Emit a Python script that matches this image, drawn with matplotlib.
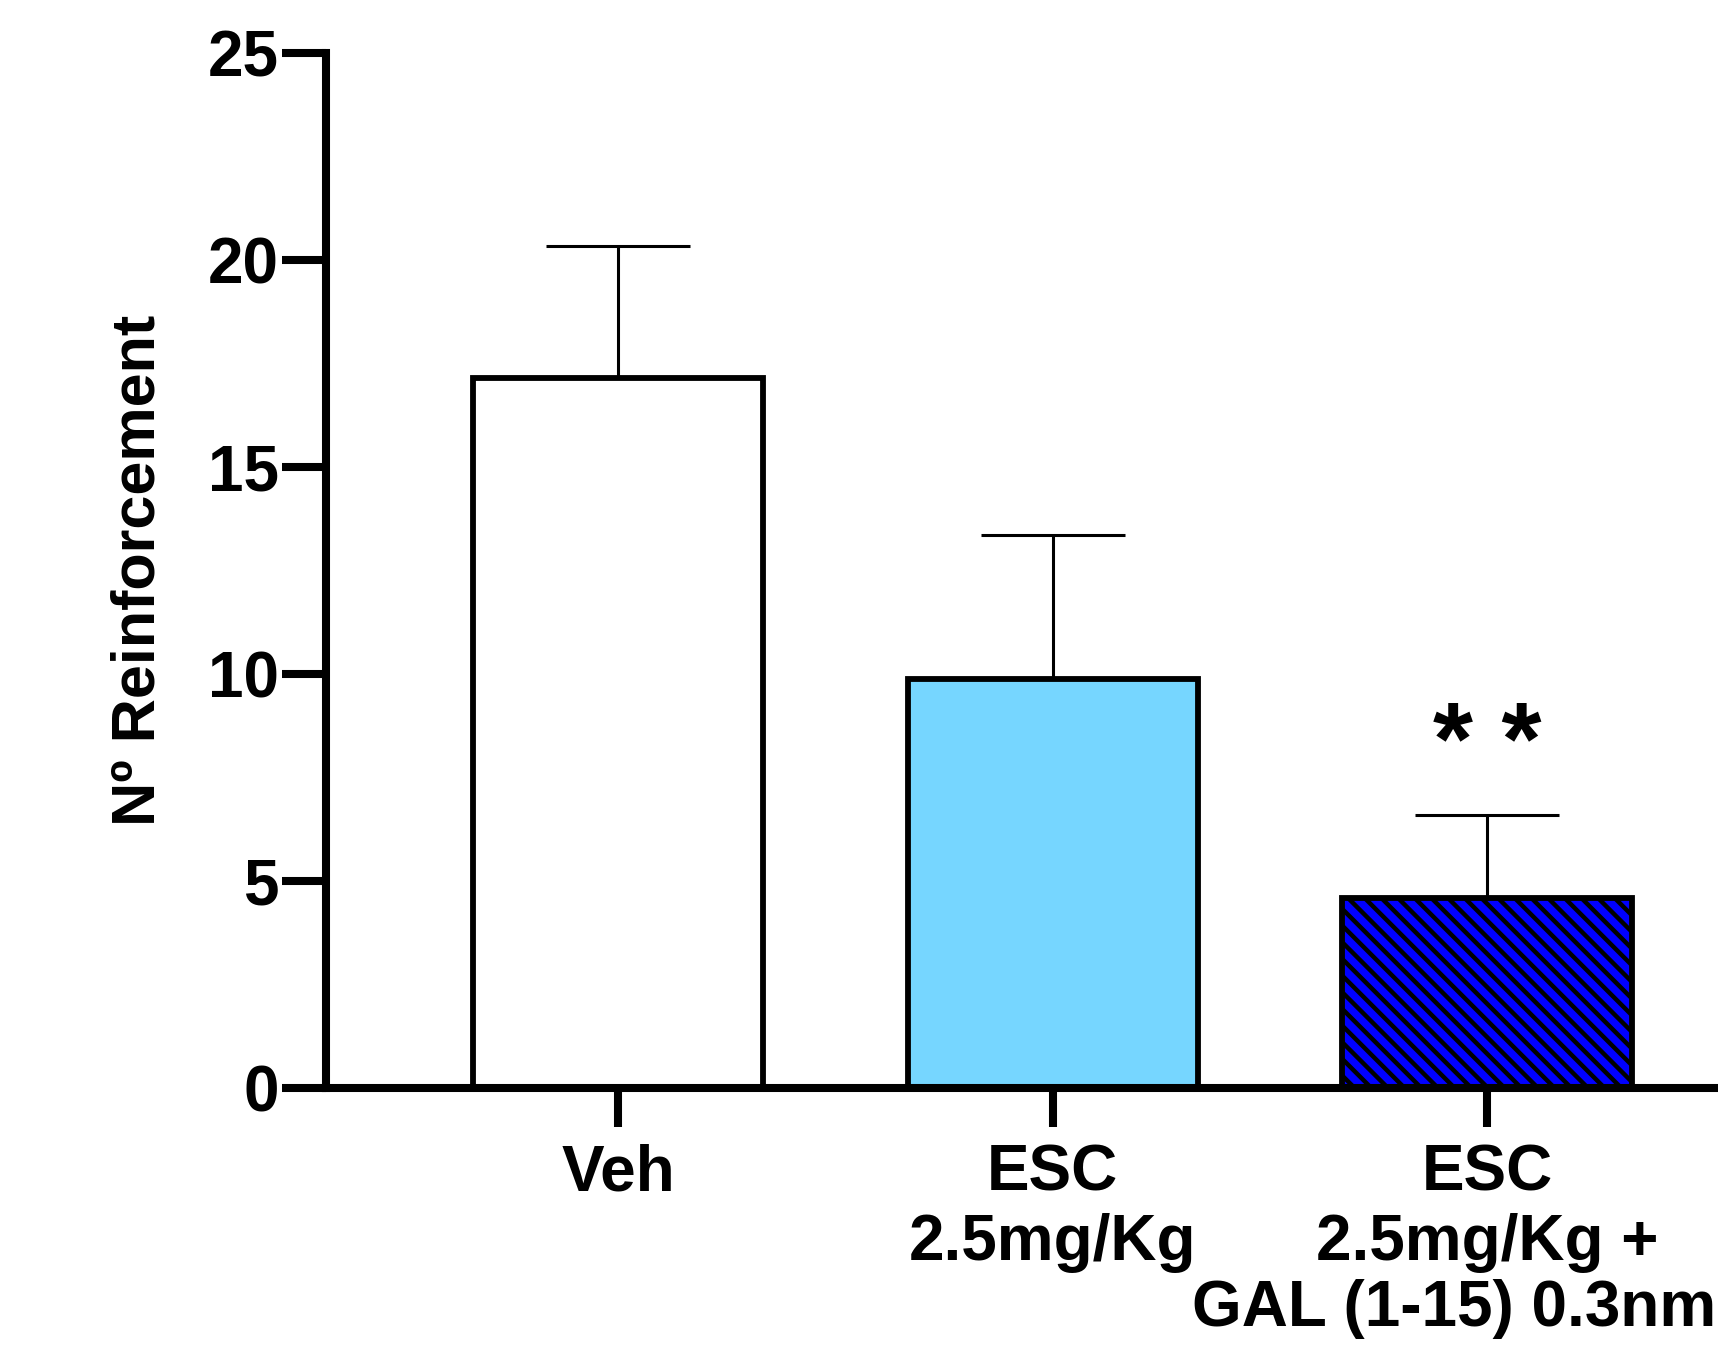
import numpy as np
import matplotlib
matplotlib.use("Agg")
import matplotlib.pyplot as plt

plt.rcParams['font.family'] = ['Liberation Sans', 'DejaVu Sans']
plt.rcParams['hatch.linewidth'] = 3.2
plt.rcParams['hatch.color'] = 'black'

groups = ['Veh', 'ESC\n2.5mg/Kg', 'ESC\n2.5mg/Kg +']
last_line = 'GAL (1-15) 0.3nm'
means = [17.15, 9.87, 4.6]
sem = [3.2, 3.5, 2.0]
colors = ['white', '#76D6FF', '#0000FF']
hatches = ['', '', '\\\\']
yticks = [0, 5, 10, 15, 20, 25]

fig = plt.figure(figsize=(17.18, 13.5), dpi=100)
ax = fig.add_axes([0.1898, 0.194, 0.8102, 0.7667])

x = np.arange(len(groups))
bars = ax.bar(x, means, width=0.668, color=colors, edgecolor='black',
              linewidth=4.2, zorder=2)
for b, h in zip(bars, hatches):
    b.set_hatch(h)

ax.errorbar(x, means, yerr=[[0] * len(sem), sem], fmt='none', ecolor='black',
            elinewidth=2.2, capsize=52, capthick=2.2, zorder=1)

ax.text(2, 8.2, '* *', ha='center', va='center', fontsize=74,
        fontweight='bold')

ax.set_xlim(-0.673, 2.532)
ax.set_ylim(0, 25)
ax.set_yticks(yticks)
ax.set_xticks(x)
ax.set_xticklabels(groups, fontsize=46, fontweight='bold', linespacing=1.2)
ax.set_yticklabels([str(t) for t in yticks], fontsize=46, fontweight='bold')
ax.tick_params(axis='y', length=32, width=5.8, pad=2)
ax.tick_params(axis='x', length=28, width=5.8, pad=12)
ax.set_ylabel('Nº Reinforcement', fontsize=44, fontweight='bold', labelpad=29)

# third line of the last label sits against the right edge
ax.annotate(last_line, xy=(0.999, 0), xycoords=('figure fraction', 'axes fraction'),
            xytext=(0, -159), textcoords='offset points', ha='right', va='center',
            fontsize=46, fontweight='bold', annotation_clip=False)

for s in ['top', 'right']:
    ax.spines[s].set_visible(False)
for s in ['left', 'bottom']:
    ax.spines[s].set_linewidth(5.8)
ax.spines['bottom'].set_zorder(3)

fig.savefig('out.png', dpi=100)
